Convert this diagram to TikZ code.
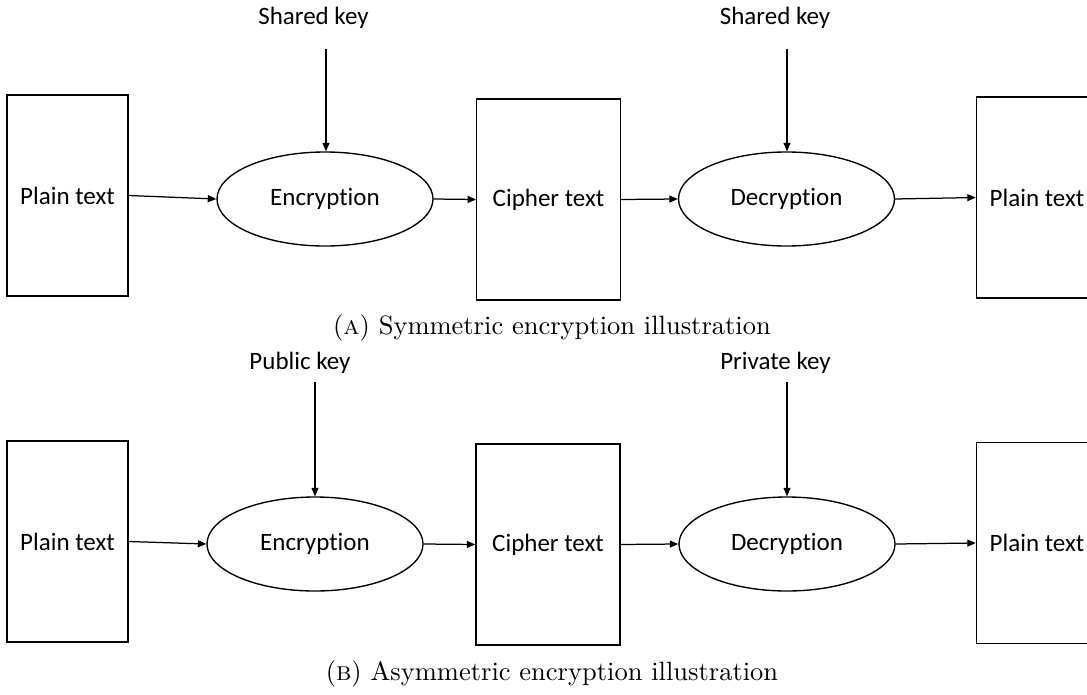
\documentclass[tikz,border=0pt]{standalone}
\usepackage{fontspec}
\newfontfamily\calibri[Ligatures=CommonOff]{Carlito}
\usetikzlibrary{shapes.geometric,arrows.meta}

\begin{document}
\begin{tikzpicture}[x=0.4pt,y=-0.4pt,
        every node/.style={font=\calibri},
        txtbox/.style={draw,line width=0.55pt,minimum height=80.4pt,inner sep=0pt},
        cryptop/.style={draw,ellipse,line width=0.55pt,minimum width=86.4pt,minimum height=37.6pt,inner sep=0pt},
        flow/.style={-{Triangle[length=3.4pt,width=2.8pt]},line width=0.5pt},
        capt/.style={font=\rmfamily\fontsize{10.6}{13}\selectfont,anchor=base}]
        %\draw[gray] (0,0) grid[step=100] (1100,700);
        \clip (0,0) rectangle (1087,694);

        % (A) symmetric
        \node[txtbox,minimum width=48.4pt] (pt1) at (67.5,195.5) {Plain text};
        \node[cryptop] (enc1) at (325,199) {Encryption};
        \node[txtbox,minimum width=57.4pt] (ct1) at (548.5,199.5) {Cipher text};
        \node[cryptop] (dec1) at (786.5,199) {Decryption};
        \node[txtbox,minimum width=48.4pt] (pt2) at (1037,197.5) {Plain text};
        \node (key1) at (313.5,18) {Shared key};
        \node (key2) at (775,18) {Shared key};
        \coordinate (k1) at (326,49);
        \coordinate (k2) at (787,49);

        \draw[flow] (pt1.east) -- (enc1.west);
        \draw[flow] (enc1.east) -- (ct1.west);
        \draw[flow] (ct1.east) -- (dec1.west);
        \draw[flow] (dec1.east) -- (pt2.west);
        \draw[flow] (k1) -- (enc1.north -| k1);
        \draw[flow] (k2) -- (dec1.north -| k2);

        \node[capt] (capa) at (552,334) {(\textsc{a}) Symmetric encryption illustration};

        % (B) asymmetric
        \node[txtbox,minimum width=48.4pt] (pt3) at (67.5,541.5) {Plain text};
        \node[cryptop] (enc2) at (315,544) {Encryption};
        \node[txtbox,minimum width=57.6pt] (ct2) at (548,544.5) {Cipher text};
        \node[cryptop] (dec2) at (787,544) {Decryption};
        \node[txtbox,minimum width=48.4pt] (pt4) at (1037,543) {Plain text};
        \node (key3) at (300,363) {Public key};
        \node (key4) at (775.5,363) {Private key};
        \coordinate (k3) at (315,382);
        \coordinate (k4) at (787,382);

        \draw[flow] (pt3.east) -- (enc2.west);
        \draw[flow] (enc2.east) -- (ct2.west);
        \draw[flow] (ct2.east) -- (dec2.west);
        \draw[flow] (dec2.east) -- (pt4.west);
        \draw[flow] (k3) -- (enc2.north -| k3);
        \draw[flow] (k4) -- (dec2.north -| k4);

        \node[capt] (capb) at (552,680) {(\textsc{b}) Asymmetric encryption illustration};
    \end{tikzpicture}
\end{document}
